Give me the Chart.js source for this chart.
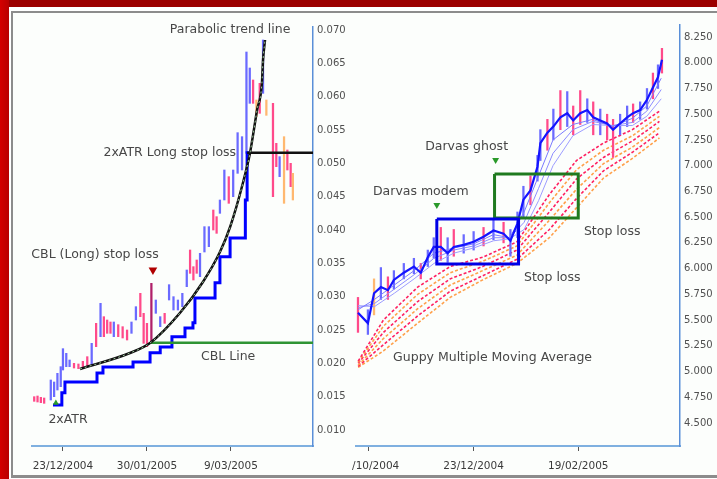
<!DOCTYPE html>
<html>
<head>
<meta charset="utf-8">
<script src="https://cdn.jsdelivr.net/npm/chart.js@4.4.1/dist/chart.umd.min.js"></script>
<style>
  html, body { margin: 0; padding: 0; background: #fff; }
  #wrap { position: relative; width: 717px; height: 479px; overflow: hidden; background: #fff; }
  #redTop { position: absolute; left: 0; top: 0; width: 717px; height: 7px; background: #9c0000; }
  #redLeft { position: absolute; left: 0; top: 0; width: 9px; height: 479px; background: linear-gradient(90deg, #d40000, #b80000); }
  #frame { position: absolute; left: 11px; top: 11px; width: 720px; height: 462px;
           border-left: 2px solid #8c8c8c; border-top: 2px solid #8c8c8c; border-bottom: 3px solid #8c8c8c; background: #fcfefc; }
  canvas { position: absolute; }
  #left { left: 14px; top: 14px; }
  #right { left: 352px; top: 14px; }
</style>
</head>
<body>
<div id="wrap">
  <div id="redTop"></div>
  <div id="redLeft"></div>
  <div id="frame"></div>
  <canvas id="left" width="337" height="458"></canvas>
  <canvas id="right" width="365" height="458"></canvas>
</div>
<script>
// ---- left panel: days counted from 23/12/2004 ----
const leftTickDays = [0, 38, 76];
const leftTickLabels = ['23/12/2004', '30/01/2005', '9/03/2005'];
const leftPriceTicks = [0.010, 0.015, 0.020, 0.025, 0.030, 0.035, 0.040, 0.045, 0.050, 0.055, 0.060, 0.065, 0.070];

const lDay = [-13, -11.5, -10, -8.5, -5.5, -4, -2.5, -1, 0, 1.5, 3, 5, 7, 9, 11, 13, 15, 17, 18.5, 20, 21.5, 23, 25, 27, 29, 31, 33, 35, 36.5, 38, 40, 42, 44, 46, 48, 50, 52, 54, 56, 57.5, 59, 60.5, 62, 64, 66, 68, 69.5, 71, 73, 75, 77, 79, 81, 83, 84.5, 86, 87.5, 89, 90.5, 92, 95, 96.5, 98, 100, 101.5, 103, 104];
const lHigh = [0.0150, 0.0151, 0.0149, 0.0148, 0.0175, 0.0172, 0.0185, 0.0195, 0.0222, 0.0215, 0.0205, 0.0200, 0.0199, 0.0203, 0.0210, 0.0230, 0.0260, 0.0290, 0.0270, 0.0265, 0.0262, 0.0262, 0.0258, 0.0255, 0.0250, 0.0262, 0.0285, 0.0305, 0.0275, 0.0260, 0.0320, 0.0295, 0.0270, 0.0275, 0.0318, 0.0300, 0.0295, 0.0305, 0.0340, 0.0370, 0.0345, 0.0355, 0.0365, 0.0405, 0.0405, 0.0430, 0.0420, 0.0445, 0.0490, 0.0480, 0.0490, 0.0546, 0.0540, 0.0667, 0.0643, 0.0625, 0.0595, 0.0620, 0.0685, 0.0595, 0.0590, 0.0530, 0.0510, 0.0540, 0.0520, 0.0500, 0.0485];
const lLow = [0.0143, 0.0142, 0.0141, 0.0140, 0.0145, 0.0150, 0.0160, 0.0165, 0.0190, 0.0195, 0.0195, 0.0193, 0.0192, 0.0193, 0.0195, 0.0198, 0.0225, 0.0240, 0.0240, 0.0245, 0.0245, 0.0240, 0.0240, 0.0238, 0.0235, 0.0245, 0.0265, 0.0270, 0.0230, 0.0225, 0.0230, 0.0275, 0.0255, 0.0260, 0.0295, 0.0280, 0.0280, 0.0285, 0.0315, 0.0335, 0.0325, 0.0335, 0.0330, 0.0367, 0.0375, 0.0400, 0.0395, 0.0425, 0.0445, 0.0440, 0.0450, 0.0485, 0.0490, 0.0515, 0.0590, 0.0590, 0.0570, 0.0575, 0.0605, 0.0572, 0.0450, 0.0495, 0.0480, 0.0440, 0.0490, 0.0465, 0.0445];
const lKind = ['p','p','p','p','u','u','u','u','u','u','u','p','p','p','p','u','p','u','p','p','p','u','p','p','p','u','u','p','p','p','m','u','u','p','u','u','u','u','u','p','p','p','u','u','u','p','p','u','u','p','u','u','u','u','u','p','o','p','u','o','p','p','u','o','p','p','o'];

// 2xATR trailing stop (steps)
const lStopDay = [-4.5, -0.5, 0.9, 15.4, 18.1, 31.7, 39.4, 44, 49.3, 55.2, 58.8, 59.7, 68.8, 71.0, 75.6, 82.5, 83.3, 84.6];
const lStopVal = [0.01375, 0.0156, 0.0172, 0.01855, 0.01945, 0.0202, 0.0216, 0.02245, 0.0240, 0.0253, 0.0261, 0.0298, 0.0321, 0.0360, 0.0388, 0.0445, 0.0516, 0.0516];

// parabolic trend line
const lCurveDay = [7.7, 30.3, 39.4, 52.9, 63.3, 71.0, 75.6, 81.4, 84.6, 87.8, 90.0, 90.5, 91.4];
const lCurveVal = [0.01915, 0.02155, 0.02305, 0.02755, 0.0322, 0.0367, 0.04045, 0.04705, 0.05155, 0.058, 0.06205, 0.0655, 0.0685];

const lLongStop = 0.0516, lLongStopFrom = 83.3;
const lCbl = 0.0231, lCblFrom = 39.4;

const leftNotes = ['Parabolic trend line', '2xATR Long stop loss', 'CBL (Long) stop loss', 'CBL Line', '2xATR'];
const leftNoteDay = [75.6, 78.3, 14.5, 74.7, 2.3];
const leftNoteVal = [0.0700, 0.05155, 0.03625, 0.02095, 0.0115];
const leftNoteAlign = ['center', 'right', 'center', 'center', 'center'];

// ---- right panel: days counted from 23/12/2004 ----
const rightTickDays = [-58, 0, 58];
const rightTickLabels = ['26/10/2004', '23/12/2004', '19/02/2005'];
const rightPriceTicks = [4.50, 4.75, 5.00, 5.25, 5.50, 5.75, 6.00, 6.25, 6.50, 6.75, 7.00, 7.25, 7.50, 7.75, 8.00, 8.25];

const rDay = [-64.1, -58.6, -55.2, -51.4, -47.5, -44.2, -38.7, -33.1, -29.3, -25.4, -22.1, -18.2, -14.4, -11.0, -5.5, 0, 5.5, 11.0, 16.6, 20.4, 24.3, 27.6, 31.5, 35.4, 37.0, 40.9, 44.2, 48.1, 51.9, 55.2, 59.1, 63.0, 66.3, 70.2, 74.0, 77.3, 81.2, 85.1, 88.4, 92.3, 96.1, 99.4, 102.2, 104.4];
const rClose = [5.57, 5.47, 5.76, 5.82, 5.79, 5.89, 5.96, 6.02, 5.96, 6.11, 6.21, 6.21, 6.15, 6.21, 6.23, 6.26, 6.31, 6.37, 6.34, 6.27, 6.44, 6.67, 6.76, 6.99, 7.22, 7.32, 7.38, 7.47, 7.51, 7.44, 7.51, 7.54, 7.47, 7.44, 7.41, 7.35, 7.41, 7.47, 7.51, 7.54, 7.64, 7.76, 7.86, 8.03];
const rHigh = [5.72, 5.60, 5.90, 6.01, 5.92, 5.98, 6.05, 6.10, 6.05, 6.18, 6.30, 6.40, 6.30, 6.38, 6.33, 6.36, 6.40, 6.47, 6.45, 6.38, 6.55, 6.80, 6.90, 7.10, 7.35, 7.45, 7.55, 7.73, 7.72, 7.58, 7.73, 7.65, 7.62, 7.55, 7.50, 7.45, 7.50, 7.58, 7.60, 7.62, 7.75, 7.90, 7.98, 8.14];
const rLow = [5.38, 5.36, 5.55, 5.70, 5.70, 5.80, 5.90, 5.95, 5.90, 6.02, 6.10, 6.08, 6.06, 6.12, 6.15, 6.18, 6.22, 6.28, 6.25, 6.12, 6.30, 6.50, 6.62, 6.85, 7.05, 7.15, 7.25, 7.35, 7.38, 7.30, 7.40, 7.42, 7.30, 7.30, 7.25, 7.08, 7.30, 7.38, 7.42, 7.45, 7.55, 7.65, 7.75, 7.90];
const rKind = ['p','u','o','u','p','u','u','u','p','u','u','p','u','p','u','u','p','u','p','u','u','u','p','u','u','p','u','p','u','p','p','u','p','u','p','p','u','u','p','u','u','p','u','p'];

// short term averages
const rShortDay = [-64, -55, -44, -33, -22, -11, 0, 11, 20, 28, 36, 44, 55, 66, 77, 88, 96, 104];
const rShortA = [5.60, 5.70, 5.84, 5.98, 6.15, 6.20, 6.24, 6.33, 6.30, 6.55, 6.90, 7.25, 7.40, 7.45, 7.38, 7.46, 7.58, 7.85];
const rShortB = [5.62, 5.66, 5.80, 5.94, 6.10, 6.18, 6.22, 6.30, 6.30, 6.45, 6.78, 7.12, 7.35, 7.43, 7.39, 7.42, 7.53, 7.74];
const rShortC = [5.64, 5.63, 5.76, 5.90, 6.05, 6.15, 6.20, 6.27, 6.29, 6.38, 6.66, 7.00, 7.29, 7.40, 7.39, 7.39, 7.48, 7.65];

// long term averages
const rLongDay = [-64, -50, -31, -13, 5, 24, 42, 57, 72, 88, 103];
const rLong1 = [5.10, 5.50, 5.82, 6.02, 6.11, 6.26, 6.72, 7.05, 7.22, 7.35, 7.53];
const rLong2 = [5.09, 5.44, 5.75, 5.96, 6.07, 6.22, 6.64, 6.96, 7.15, 7.29, 7.48];
const rLong3 = [5.08, 5.38, 5.68, 5.90, 6.02, 6.18, 6.55, 6.87, 7.08, 7.24, 7.43];
const rLong4 = [5.06, 5.32, 5.61, 5.84, 5.98, 6.13, 6.47, 6.77, 7.02, 7.18, 7.37];
const rLong5 = [5.05, 5.26, 5.54, 5.78, 5.93, 6.09, 6.38, 6.68, 6.95, 7.13, 7.32];
const rLong6 = [5.04, 5.20, 5.47, 5.72, 5.89, 6.05, 6.30, 6.59, 6.88, 7.07, 7.27];

// Darvas boxes [fromDay, toDay, low, high]
const darvasModern = [-20.4, 24.9, 6.045, 6.482];
const darvasGhost = [11.6, 58.0, 6.491, 6.919];
const signalDay = [-20.4, 12.2];
const signalVal = [6.618, 7.055];

const rightNotes = ['Darvas modem', 'Darvas ghost', 'Stop loss', 'Stop loss', 'Guppy Multiple Moving Average'];
const rightNoteDay = [-29.3, -3.9, 76.8, 43.6, 10.5];
const rightNoteVal = [6.744, 7.181, 6.355, 5.908, 5.131];

const kindColor = { u: '#6a6aff', p: '#ff4a8a', o: '#ffb870', m: '#b0206a' };
const FONT = '"DejaVu Sans", Verdana, sans-serif';
Chart.defaults.font.family = FONT;
Chart.defaults.font.size = 10;

const pts = (xs, ys) => xs.map((x, i) => ({ x, y: ys[i] }));
const box = b => [{ x: b[0], y: b[3] }, { x: b[1], y: b[3] }, { x: b[1], y: b[2] }, { x: b[0], y: b[2] }, { x: b[0], y: b[3] }];

const notes = {
  id: 'notes',
  afterDatasetsDraw(chart, args, opts) {
    const { ctx, scales: { x, y } } = chart;
    ctx.save();
    ctx.font = '12.5px ' + FONT;
    ctx.fillStyle = '#474747';
    ctx.textBaseline = 'middle';
    opts.text.forEach((t, i) => {
      ctx.textAlign = opts.align ? opts.align[i] : 'center';
      ctx.fillText(t, x.getPixelForValue(opts.day[i]), y.getPixelForValue(opts.val[i]));
    });
    ctx.restore();
  }
};

function line(data, color, width, extra) {
  return Object.assign({ type: 'line', data, borderColor: color, borderWidth: width,
    pointRadius: 0, fill: false, tension: 0 }, extra || {});
}

function scales(xMin, xMax, yMin, yMax, tickDays, tickLabels, priceTicks, yWidth) {
  return {
    x: {
      type: 'linear', min: xMin, max: xMax, offset: false,
      grid: { offset: false, drawOnChartArea: false, drawTicks: true, tickLength: 5, color: '#555' },
      border: { color: '#7fb0e0', width: 2 },
      afterBuildTicks: s => { s.ticks = tickDays.map(v => ({ value: v })); },
      afterFit: s => { s.height = 26; s.paddingLeft = 0; s.paddingRight = 0; },
      ticks: { autoSkip: false, maxRotation: 0, padding: 9, color: '#3a3a3a', font: { size: 10.5 },
        callback: v => tickLabels[tickDays.indexOf(v)] }
    },
    y: {
      type: 'linear', position: 'right', min: yMin, max: yMax,
      grid: { display: false, drawTicks: false },
      border: { display: true, color: '#5a8fd8', width: 1.5, dash: [2, 2] },
      afterBuildTicks: s => { s.ticks = priceTicks.map(v => ({ value: v })); },
      afterFit: s => { s.width = yWidth; s.paddingTop = 0; s.paddingBottom = 0; },
      ticks: { padding: 4, color: '#505050', callback: v => v.toFixed(3) }
    }
  };
}

const common = {
  responsive: false, animation: false,
  plugins: { legend: { display: false }, tooltip: { enabled: false } }
};

new Chart(document.getElementById('left'), {
  type: 'bar',
  data: {
    datasets: [
      line([{ x: 40.7, y: 0.0340 }], '#b00000', 0, { showLine: false, pointRadius: 5, pointStyle: 'triangle',
        rotation: 180, backgroundColor: '#b00000', borderColor: '#b00000' }),
      line([{ x: -3.2, y: 0.01405 }], '#2a9a2a', 0, { showLine: false, pointRadius: 3.5, pointStyle: 'triangle',
        backgroundColor: '#2a9a2a', borderColor: '#2a9a2a' }),
      line(pts(lCurveDay, lCurveVal), '#9cc79c', 1, { borderDash: [2, 3], cubicInterpolationMode: 'monotone' }),
      line(pts(lCurveDay, lCurveVal), '#111', 2.5, { cubicInterpolationMode: 'monotone' }),
      line([{ x: lLongStopFrom, y: lLongStop }, { x: 113.1, y: lLongStop }], '#111', 2.5),
      line([{ x: lCblFrom, y: lCbl }, { x: 113.1, y: lCbl }], '#2f9434', 2.5),
      line(pts(lStopDay, lStopVal), '#0000ff', 3, { stepped: 'before' }),
      {
        type: 'bar',
        data: lDay.map((d, i) => ({ x: d, y: [lLow[i], lHigh[i]] })),
        backgroundColor: lKind.map(k => kindColor[k]),
        barThickness: 1.6
      }
    ]
  },
  options: Object.assign({}, common, {
    layout: { padding: { left: 18, top: 13, right: 0, bottom: 0 } },
    scales: scales(-14, 113.1, 0.0076, 0.07045, leftTickDays, leftTickLabels, leftPriceTicks, 38),
    plugins: Object.assign({}, common.plugins, {
      notes: { text: leftNotes, day: leftNoteDay, val: leftNoteVal, align: leftNoteAlign }
    })
  }),
  plugins: [notes]
});

const longSets = [rLong1, rLong2, rLong3, rLong4, rLong5, rLong6].map((vals, i) =>
  line(pts(rLongDay, vals), i % 2 ? '#ffa04a' : '#ff2060', 1.6, { borderDash: [3, 2] }));

new Chart(document.getElementById('right'), {
  type: 'bar',
  data: {
    datasets: [
      line(pts(signalDay, signalVal), '#2a9a2a', 0, { showLine: false, pointRadius: 4, pointStyle: 'triangle',
        rotation: 180, backgroundColor: '#2a9a2a', borderColor: '#2a9a2a' }),
      line(box(darvasModern), '#0000e6', 3),
      line(box(darvasGhost), '#1f7a1f', 3),
      line(pts(rDay, rClose), '#1414ff', 2.2),
      line(pts(rShortDay, rShortA), '#7a7aff', 1),
      line(pts(rShortDay, rShortB), '#8c8cff', 1),
      line(pts(rShortDay, rShortC), '#9c9cff', 1),
      {
        type: 'bar',
        data: rDay.map((d, i) => ({ x: d, y: [rLow[i], rHigh[i]] })),
        backgroundColor: rKind.map(k => kindColor[k]),
        barThickness: 1.6
      },
      ...longSets
    ]
  },
  options: Object.assign({}, common, {
    layout: { padding: { left: 3, top: 11, right: 0, bottom: 0 } },
    scales: scales(-65.2, 114.4, 4.276, 8.367, rightTickDays, rightTickLabels, rightPriceTicks, 37),
    plugins: Object.assign({}, common.plugins, {
      notes: { text: rightNotes, day: rightNoteDay, val: rightNoteVal }
    })
  }),
  plugins: [notes]
});
</script>
</body>
</html>
